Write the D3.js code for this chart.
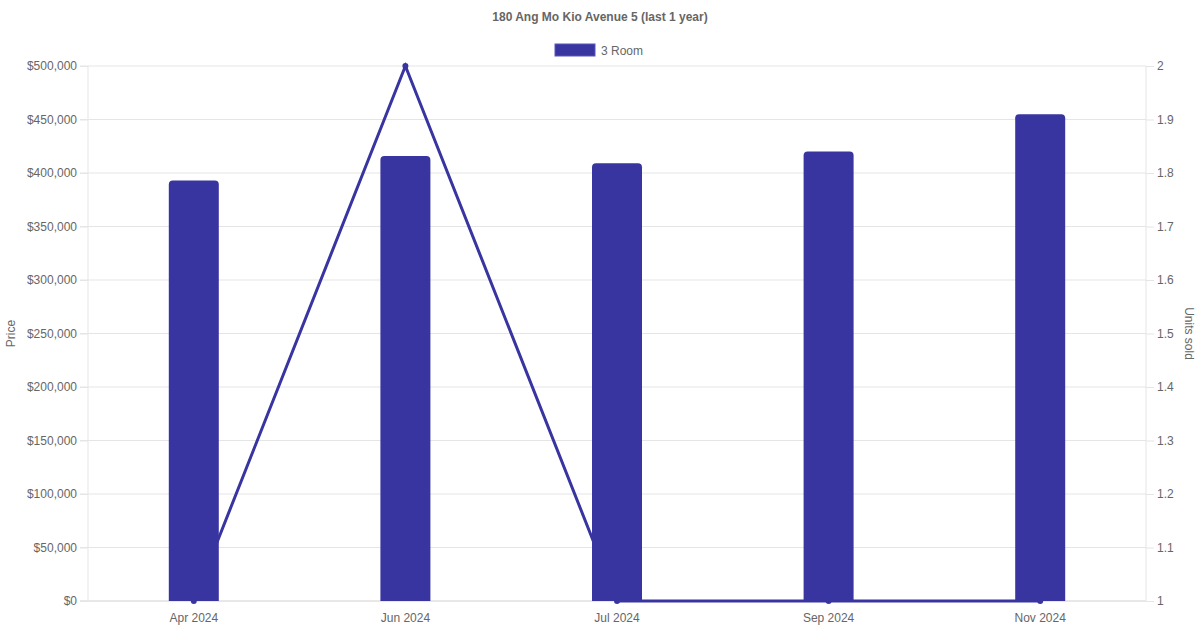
<!DOCTYPE html>
<html>
<head>
<meta charset="utf-8">
<script src="https://cdn.jsdelivr.net/npm/d3@7"></script>
<style>
  body { margin: 0; background: #fff; }
  svg { display: block; font-family: "Liberation Sans", Arial, sans-serif; }
</style>
</head>
<body>
<svg id="chart"></svg>
<script>
// chart data
const months = ["Apr 2024", "Jun 2024", "Jul 2024", "Sep 2024", "Nov 2024"];
const prices = [393000, 416000, 409000, 420000, 455000];
const unitsSold = [1, 2, 1, 1, 1];
const priceTicks = [0, 50000, 100000, 150000, 200000, 250000, 300000, 350000, 400000, 450000, 500000];
const unitTicks = [1, 1.1, 1.2, 1.3, 1.4, 1.5, 1.6, 1.7, 1.8, 1.9, 2];

const W = 1200, H = 630;
const margin = { top: 66, right: 54, bottom: 29, left: 88 };
const width = W - margin.left - margin.right;
const height = H - margin.top - margin.bottom;
const barColor = "#3935a0";

const svg = d3.select("#chart").attr("width", W).attr("height", H);

svg.append("text")
    .attr("x", W / 2).attr("y", 21)
    .attr("text-anchor", "middle")
    .attr("font-size", 12).attr("font-weight", "bold")
    .attr("fill", "#666")
    .text("180 Ang Mo Kio Avenue 5 (last 1 year)");

// legend
const legend = svg.append("g").attr("transform", "translate(555,44)");
legend.append("rect").attr("width", 40).attr("height", 12).attr("fill", barColor)
    .attr("stroke", "#5a56b8").attr("stroke-width", 1);
legend.append("text").attr("x", 46).attr("y", 10.5)
    .attr("font-size", 12).attr("fill", "#666").text("3 Room");

const g = svg.append("g").attr("transform", `translate(${margin.left},${margin.top})`);

const x = d3.scaleBand().domain(months).range([0, width]);
const y = d3.scaleLinear().domain([0, 500000]).range([height, 0]);
const y1 = d3.scaleLinear().domain([1, 2]).range([height, 0]);

// grid lines
g.append("g").selectAll("line").data(priceTicks).join("line")
    .attr("x1", -8).attr("x2", width)
    .attr("y1", d => y(d)).attr("y2", d => y(d))
    .attr("stroke", d => d === 0 ? "#d0d0d0" : "#e5e5e5").attr("stroke-width", 1);

// left axis
const fmt = d => "$" + d3.format(",")(d);
const leftAxis = g.append("g")
    .call(d3.axisLeft(y).tickValues(priceTicks).tickFormat(fmt).tickSize(8).tickPadding(3));
leftAxis.select(".domain").attr("stroke", "#e5e5e5").attr("d", `M0,0V${height}`);
leftAxis.selectAll(".tick line").attr("stroke", "#e5e5e5");
leftAxis.selectAll("text").attr("font-size", 12).attr("fill", "#666").attr("font-family", "Liberation Sans, Arial, sans-serif");

// right axis
const rightAxis = g.append("g").attr("transform", `translate(${width},0)`)
    .call(d3.axisRight(y1).tickValues(unitTicks).tickFormat(d3.format("")).tickSize(8).tickPadding(3));
rightAxis.select(".domain").attr("stroke", "#e5e5e5").attr("d", `M0,0V${height}`);
rightAxis.selectAll(".tick line").attr("stroke", "#e5e5e5");
rightAxis.selectAll("text").attr("font-size", 12).attr("fill", "#666").attr("font-family", "Liberation Sans, Arial, sans-serif");

// bottom axis labels
const bottomAxis = g.append("g").attr("transform", `translate(0,${height})`)
    .call(d3.axisBottom(x).tickSize(0).tickPadding(12));
bottomAxis.select(".domain").remove();
bottomAxis.selectAll("text").attr("font-size", 12).attr("fill", "#666").attr("font-family", "Liberation Sans, Arial, sans-serif");

// axis titles
svg.append("text")
    .attr("transform", `translate(15,${margin.top + height / 2}) rotate(-90)`)
    .attr("text-anchor", "middle").attr("font-size", 12).attr("fill", "#666")
    .text("Price");
svg.append("text")
    .attr("transform", `translate(1185,${margin.top + height / 2}) rotate(90)`)
    .attr("text-anchor", "middle").attr("font-size", 12).attr("fill", "#666")
    .text("Units sold");

// line (drawn behind the bars)
const cx = d => x(d) + x.bandwidth() / 2;
const line = d3.line().x((d, i) => cx(months[i])).y(d => y1(d));
g.append("path").datum(unitsSold)
    .attr("d", line).attr("fill", "none")
    .attr("stroke", barColor).attr("stroke-width", 3);
g.append("g").selectAll("circle").data(unitsSold).join("circle")
    .attr("cx", (d, i) => cx(months[i])).attr("cy", d => y1(d))
    .attr("r", 3).attr("fill", barColor);

// bars with rounded tops
const bw = 50, r = 4;
g.append("g").selectAll("path").data(prices).join("path")
    .attr("d", (d, i) => {
        const x0 = cx(months[i]) - bw / 2, x1 = x0 + bw;
        const top = y(d), bot = y(0);
        return `M${x0},${bot}V${top + r}Q${x0},${top} ${x0 + r},${top}H${x1 - r}Q${x1},${top} ${x1},${top + r}V${bot}Z`;
    })
    .attr("fill", barColor);
</script>
</body>
</html>
